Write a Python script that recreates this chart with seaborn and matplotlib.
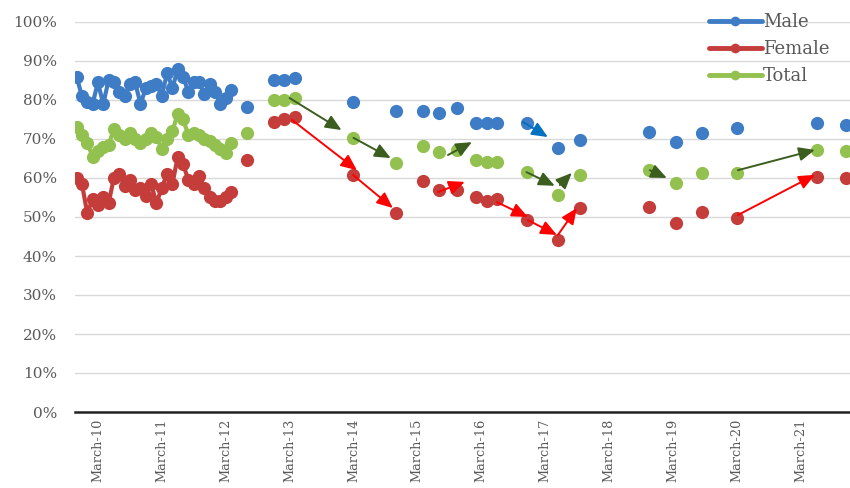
import numpy as np
import pandas as pd
import matplotlib
matplotlib.use("Agg")
import matplotlib.pyplot as plt
import seaborn as sns
from matplotlib.lines import Line2D
from matplotlib.ticker import PercentFormatter

# hours after March-10 00:00
hours = [-8, -6, -4, -2, 0, 2, 4, 6, 8, 10, 12, 14, 16, 18, 20, 22, 24, 26, 28, 30,
         32, 34, 36, 38, 40, 42, 44, 46, 48, 50,
         56, 66, 70, 74, 96, 112, 122, 128, 135, 142, 146, 150, 161, 173, 181,
         207, 217, 227, 240, 270, 281]

male = [86, 81, 79.5, 79, 84.5, 79, 85, 84.5, 82, 81, 84, 84.5, 79, 83, 83.5, 84, 81, 87, 83, 88,
        86, 82, 84.5, 84.5, 81.5, 84, 82, 79, 80.5, 82.5,
        78.2, 85.1, 85.1, 85.6, 79.5, 77.2, 77.2, 76.7, 78, 74, 74, 74, 74, 67.7, 69.7,
        71.8, 69.2, 71.5, 72.8, 74, 73.6]

female = [60, 58.5, 51, 54.5, 53, 55, 53.5, 60, 61, 58, 59.5, 57, 57.5, 55.5, 58.5, 53.5, 57.5, 61, 58.5, 65.5,
          63.5, 59.5, 58.5, 60.5, 57.5, 55, 54, 54, 55, 56.5,
          64.6, 74.4, 75.2, 75.6, 60.8, 51, 59.2, 57, 57, 55.2, 54, 54.6, 49.2, 44.1, 52.3,
          52.6, 48.5, 51.3, 49.7, 60.3, 60]

total = [73, 71, 69, 65.5, 67, 68, 68.5, 72.5, 71, 70, 71.5, 70, 69, 70, 71.5, 70.5, 67.5, 70, 72, 76.5,
         75, 71, 71.5, 71, 70, 69.5, 68.5, 67.5, 66.5, 69,
         71.5, 80, 80, 80.5, 70.3, 63.8, 68.2, 66.7, 67.2, 64.6, 64.2, 64.2, 61.5, 55.6, 60.8,
         62, 58.7, 61.3, 61.3, 67.2, 67]

day_labels = ["March-10", "March-11", "March-12", "March-13", "March-14", "March-15",
              "March-16", "March-17", "March-18", "March-19", "March-20", "March-21"]

# trend arrows: (colour, start hour, start %, end hour, end %)
arrows = [
    ("#3B5E1F", 72, 80.5, 91.5, 72.3),
    ("#3B5E1F", 96, 70.3, 110, 65.1),
    ("#3B5E1F", 131.5, 65.9, 140.5, 69.2),
    ("#3B5E1F", 161, 61.5, 171.6, 58),
    ("#3B5E1F", 173.5, 58.2, 178, 61.3),
    ("#3B5E1F", 207.3, 62, 213.7, 60),
    ("#3B5E1F", 240.4, 62, 269.3, 67.2),
    ("#FF0000", 72.9, 74.9, 97.3, 62),
    ("#FF0000", 95.8, 60.8, 110.8, 52.3),
    ("#FF0000", 127.7, 56.4, 137.8, 59),
    ("#FF0000", 149.9, 53.8, 161.5, 50),
    ("#FF0000", 161.5, 49.2, 172.4, 45.4),
    ("#FF0000", 172.8, 45.4, 179.9, 52.3),
    ("#FF0000", 240.4, 50.5, 269.3, 60.8),
    ("#0070C0", 159.6, 74.4, 169, 70.5),
]

palette = {"Male": "#3F7CC6", "Female": "#C43D3A", "Total": "#93C150"}
grey = "#595959"

sns.set_style("white")
plt.rcParams["font.family"] = ["DejaVu Serif"]

# break the line wherever readings are more than a few hours apart
seg = np.cumsum(np.diff(hours, prepend=hours[0]) > 4.5)
df = pd.DataFrame({"hour": hours, "seg": seg, "Male": male, "Female": female, "Total": total})
df = df.melt(id_vars=["hour", "seg"], var_name="series", value_name="share")

fig = plt.figure(figsize=(8.5, 4.88), dpi=100)
ax = fig.add_axes([75 / 850, 76 / 488, 775 / 850, 390 / 488])

sns.lineplot(data=df, x="hour", y="share", hue="series", units="seg", estimator=None,
             palette=palette, marker="o", markersize=9.5, markeredgewidth=0,
             linewidth=3, legend=False, ax=ax)

for c, x0, y0, x1, y1 in arrows:
    ax.annotate("", xy=(x1, y1), xytext=(x0, y0),
                arrowprops=dict(arrowstyle="-|>,head_length=0.8,head_width=0.35",
                                color=c, lw=1.4, shrinkA=0, shrinkB=0, mutation_scale=12))

ax.set_xlim(-8.6, 282.5)
ax.set_ylim(0, 100)
ax.set_xticks([24 * i for i in range(len(day_labels))])
ax.set_xticklabels(day_labels, rotation=90, va="top", ha="center")
ax.set_yticks(range(0, 101, 10))
ax.yaxis.set_major_formatter(PercentFormatter(decimals=0))
ax.set_xlabel("")
ax.set_ylabel("")

ax.yaxis.grid(True, color="#D9D9D9", lw=1)
ax.set_axisbelow(True)
for s in ["left", "right", "top"]:
    ax.spines[s].set_visible(False)
ax.spines["bottom"].set_color("#222222")
ax.spines["bottom"].set_linewidth(1.8)
ax.tick_params(axis="y", length=0, pad=13, labelsize=11, labelcolor=grey)
ax.tick_params(axis="x", length=0, pad=5, labelsize=9.3, labelcolor=grey)

handles = [Line2D([], [], color=palette[k], lw=3.5, marker="o", markersize=7, markeredgewidth=0)
           for k in ["Male", "Female", "Total"]]
ax.legend(handles, ["Male", "Female", "Total"], loc="upper right", bbox_to_anchor=(0.995, 1.065),
          frameon=False, fontsize=13, labelcolor=grey, handlelength=2.9, handletextpad=0.1,
          labelspacing=0.5)

fig.savefig("out.png", dpi=100)
